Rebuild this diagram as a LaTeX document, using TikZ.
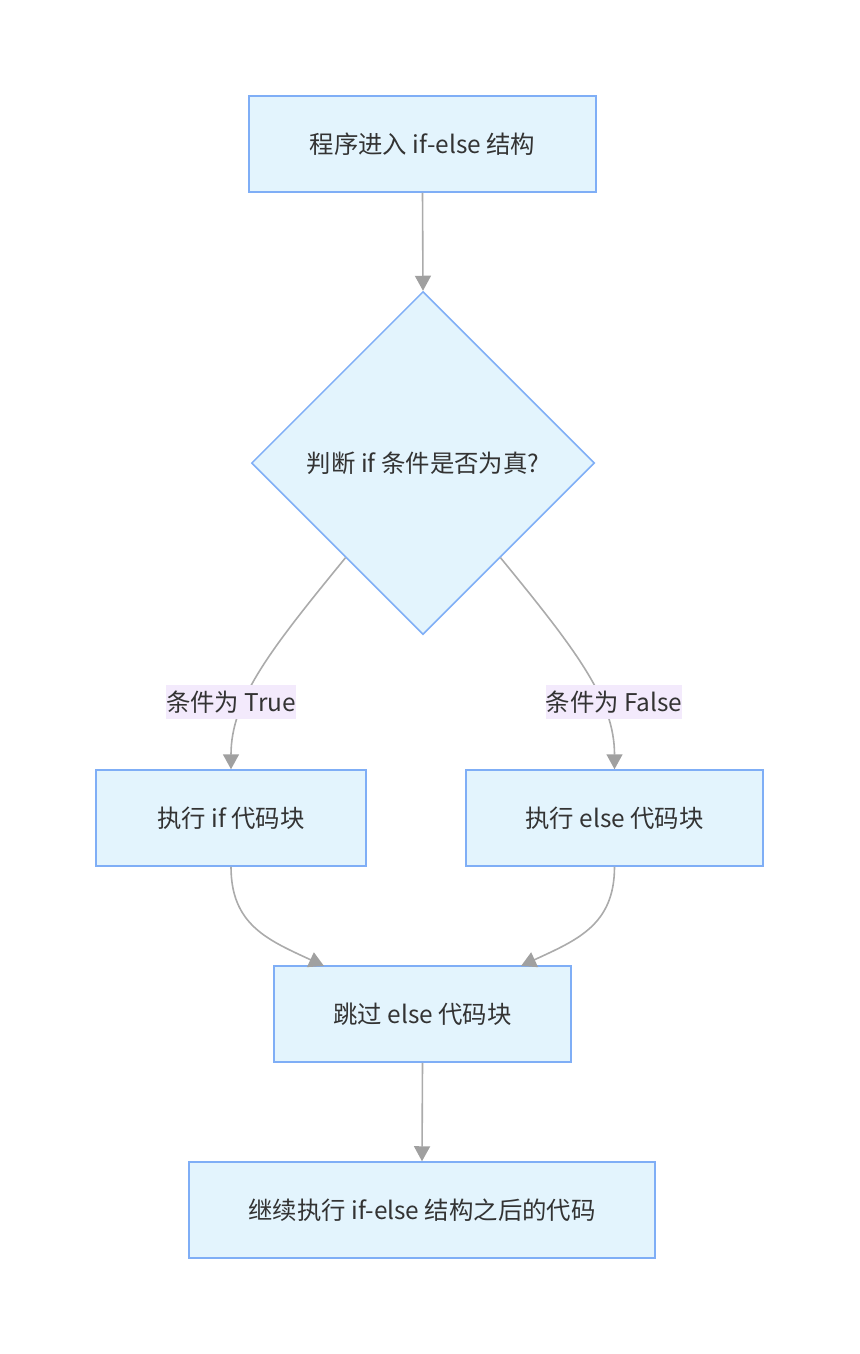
\documentclass[tikz,border=0pt]{standalone}
\usepackage{fontspec}
\setmainfont{Noto Sans CJK SC}
\usetikzlibrary{shapes.geometric,arrows.meta,calc}
\definecolor{boxfill}{HTML}{E3F4FD}
\definecolor{boxline}{HTML}{7FAEF6}
\definecolor{edgeline}{HTML}{ABABAB}
\definecolor{tipfill}{HTML}{A0A0A0}
\definecolor{lblfill}{HTML}{F3EAFC}
\definecolor{txt}{HTML}{333333}
\begin{document}
\begin{tikzpicture}[x=1pt,y=-1pt,
  every node/.style={font=\fontsize{24.4}{28}\selectfont, text=txt},
  procbox/.style={draw=boxline, fill=boxfill, line width=1.5pt, rectangle, inner sep=0pt},
  decbox/.style={draw=boxline, fill=boxfill, line width=1.5pt, diamond, aspect=1, inner sep=0pt, minimum width=343pt, minimum height=343pt},
  lbl/.style={fill=lblfill, inner sep=0pt, minimum height=34pt},
  conn/.style={draw=edgeline, line width=1.6pt, -{Triangle[length=15pt,width=16pt,fill=tipfill,color=tipfill]}}
]
\useasboundingbox (0,0) rectangle (859,1354);
\node[procbox, minimum width=347pt, minimum height=96pt] (start) at (422.5,144) {程序进入 if-else 结构};
\node[decbox] (dec) at (423,463) {};
\node at (423,463) (dectext) {判断 if 条件是否为真?};
\node[procbox, minimum width=270pt, minimum height=96pt] (ifb) at (231,818) {执行 if 代码块};
\node[procbox, minimum width=297pt, minimum height=96pt] (elseb) at (614.5,818) {执行 else 代码块};
\node[procbox, minimum width=297pt, minimum height=96pt] (skip) at (422.5,1014) {跳过 else 代码块};
\node[procbox, minimum width=466pt, minimum height=96pt] (final) at (422,1210) {继续执行 if-else 结构之后的代码};

\draw[conn] (start.south) -- (dec.north);
\coordinate (dl) at ($(dec.west)!0.55!(dec.south)$);
\coordinate (dr) at ($(dec.east)!0.55!(dec.south)$);
\draw[conn] (dl) .. controls (270,650) and (231,700) .. (ifb.north);
\draw[conn] (dr) .. controls (576,650) and (614.5,700) .. (elseb.north);
\node[lbl] (lt) at (231,702) {条件为 True};
\node[lbl] (lf) at (614,702) {条件为 False};
\coordinate (s1) at (324,966);
\coordinate (s2) at (521,966);
\draw[conn] (ifb.south) .. controls (231,925) and (268,940) .. (s1);
\draw[conn] (elseb.south) .. controls (614.5,925) and (577,940) .. (s2);
\draw[conn] (skip.south) -- (final.north);
\end{tikzpicture}
\end{document}
